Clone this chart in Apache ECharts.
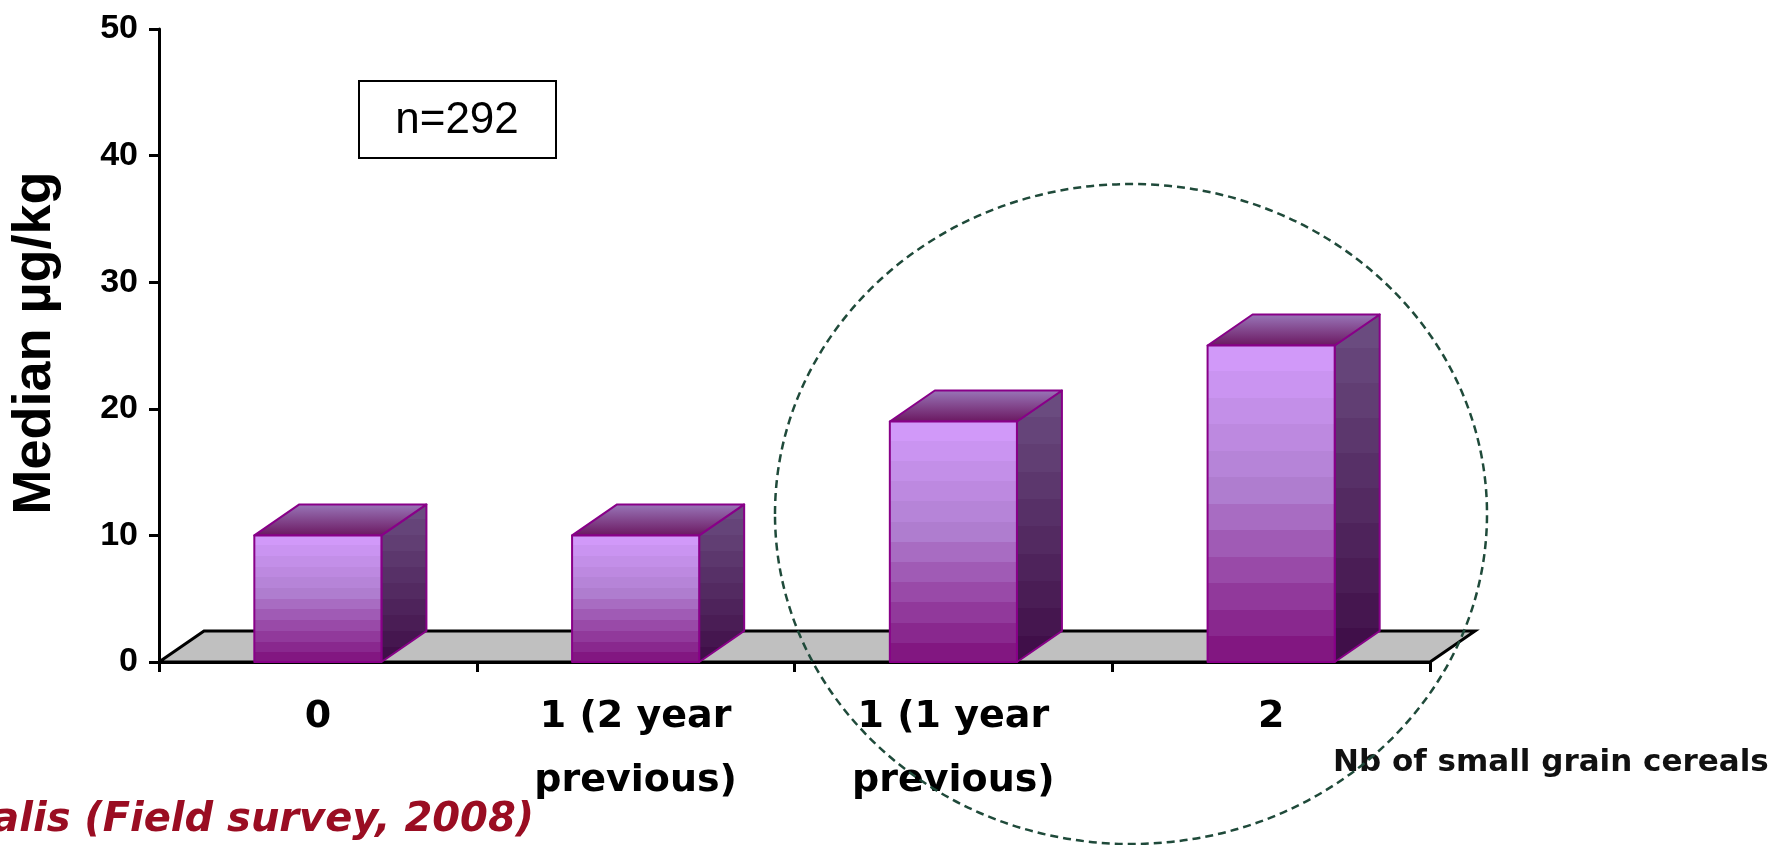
<!DOCTYPE html>
<html>
<head>
<meta charset="utf-8">
<script src="https://cdn.jsdelivr.net/npm/echarts@6/dist/echarts.min.js"></script>
<style>
  html, body { margin: 0; padding: 0; background: #fff; }
  #chart { width: 1780px; height: 845px; }
</style>
</head>
<body>
<div id="chart"></div>
<script>
// values
const categories = ['0', '1 (2 year\nprevious)', '1 (1 year\nprevious)', '2'];
const medians = [10, 10, 19, 25];
const yMax = 50;
const yStep = 10;
const sampleNote = 'n=292';
const xTitle = 'Nb of small grain cereals';
const yTitle = 'Median µg/kg';
const source = 'Arvalis (Field survey, 2008)';

// 3d look
const DX = 45, DY = 31;
const BAR_RATIO = 0.4;
const EDGE = '#880088';

function hexRgb(h) {
  const n = parseInt(h.slice(1), 16);
  return [(n >> 16) & 255, (n >> 8) & 255, n & 255];
}
function colorAt(stops, t) {
  for (let i = 1; i < stops.length; i++) {
    if (t <= stops[i][0]) {
      const a = stops[i - 1], b = stops[i];
      const k = (t - a[0]) / (b[0] - a[0]);
      const ca = hexRgb(a[1]), cb = hexRgb(b[1]);
      const c = ca.map((v, j) => Math.round(v + (cb[j] - v) * k));
      return 'rgb(' + c.join(',') + ')';
    }
  }
  return stops[stops.length - 1][1];
}
// stepped gradient, gives the horizontal bands of the old 3d bars
function banded(stops, n) {
  const out = [];
  for (let i = 0; i < n; i++) {
    const c = colorAt(stops, (i + 0.5) / n);
    out.push({ offset: i / n, color: c }, { offset: (i + 1) / n, color: c });
  }
  return { type: 'linear', x: 0, y: 0, x2: 0, y2: 1, colorStops: out };
}

const frontFill = banded([[0, '#d49cfd'], [0.45, '#b07fd0'], [1, '#7e0f7a']], 12);
const sideFill = banded([[0, '#6c4e82'], [1, '#3e0c46']], 10);
const topFill = {
  type: 'linear', x: 0, y: 0, x2: 0, y2: 1,
  colorStops: [{ offset: 0, color: '#9a78ba' }, { offset: 1, color: '#6a165f' }]
};

function renderFloor(params) {
  const cs = params.coordSys;
  const x0 = cs.x, x1 = cs.x + cs.width, y0 = cs.y + cs.height;
  return {
    type: 'polygon',
    shape: { points: [[x0, y0], [x0 + DX, y0 - DY], [x1 + DX, y0 - DY], [x1, y0]] },
    style: { fill: '#c0c0c0', stroke: '#000', lineWidth: 3, lineJoin: 'miter' }
  };
}

function renderBar(params, api) {
  const top = api.coord([api.value(0), api.value(1)]);
  const base = api.coord([api.value(0), 0]);
  const w = api.size([1, 0])[0] * BAR_RATIO;
  const l = top[0] - w / 2, r = top[0] + w / 2;
  const yt = top[1], yb = base[1];
  const edge = { stroke: EDGE, lineWidth: 2, lineJoin: 'round' };
  return {
    type: 'group',
    children: [
      {
        type: 'polygon',
        shape: { points: [[r, yb], [r + DX, yb - DY], [r + DX, yt - DY], [r, yt]] },
        style: Object.assign({ fill: sideFill }, edge)
      },
      {
        type: 'polygon',
        shape: { points: [[l, yt], [l + DX, yt - DY], [r + DX, yt - DY], [r, yt]] },
        style: Object.assign({ fill: topFill }, edge)
      },
      {
        type: 'rect',
        shape: { x: l, y: yt, width: w, height: yb - yt },
        style: Object.assign({ fill: frontFill }, edge)
      }
    ]
  };
}

const chart = echarts.init(document.getElementById('chart'), null, { renderer: 'canvas' });
chart.setOption({
  animation: false,
  backgroundColor: '#fff',
  grid: { left: 159, right: 350, top: 29, bottom: 183, containLabel: false },
  xAxis: {
    type: 'category',
    data: categories,
    boundaryGap: true,
    axisLine: { lineStyle: { color: '#000', width: 3 } },
    axisTick: { show: true, interval: 0, length: 10, lineStyle: { color: '#000', width: 3 } },
    axisLabel: {
      interval: 0,
      margin: 23,
      color: '#000',
      fontFamily: '"DejaVu Sans", sans-serif',
      fontWeight: 'bold',
      fontSize: 38,
      lineHeight: 64
    },
    splitLine: { show: false }
  },
  yAxis: {
    type: 'value',
    min: 0,
    max: yMax,
    interval: yStep,
    axisLine: { show: true, lineStyle: { color: '#000', width: 3 } },
    axisTick: { show: true, length: 10, lineStyle: { color: '#000', width: 3 } },
    axisLabel: {
      margin: 21,
      color: '#000',
      fontFamily: '"Liberation Sans", Arial, sans-serif',
      fontWeight: 'bold',
      fontSize: 34
    },
    splitLine: { show: false }
  },
  series: [
    {
      type: 'custom',
      name: 'floor',
      data: [[0, 0]],
      renderItem: renderFloor,
      z: 1,
      silent: true
    },
    {
      type: 'custom',
      name: 'Median',
      data: medians.map((v, i) => [i, v]),
      encode: { x: 0, y: 1 },
      renderItem: renderBar,
      z: 3
    }
  ],
  graphic: [
    {
      type: 'text',
      x: 35, y: 343,
      rotation: Math.PI / 2,
      style: {
        text: yTitle,
        fill: '#000',
        font: 'bold 54px "Liberation Sans", Arial, sans-serif',
        align: 'center',
        verticalAlign: 'middle'
      }
    },
    {
      type: 'rect',
      shape: { x: 359, y: 81, width: 197, height: 77 },
      style: { fill: '#fff', stroke: '#000', lineWidth: 2 }
    },
    {
      type: 'text',
      x: 457, y: 121,
      style: {
        text: sampleNote,
        fill: '#000',
        font: '44px "Liberation Sans", Arial, sans-serif',
        align: 'center',
        verticalAlign: 'middle'
      }
    },
    {
      type: 'text',
      x: 1333, y: 763,
      style: {
        text: xTitle,
        fill: '#111',
        font: 'bold 31px "DejaVu Sans", sans-serif',
        align: 'left',
        verticalAlign: 'middle'
      }
    },
    {
      type: 'text',
      x: 534, y: 821,
      style: {
        text: source,
        fill: '#9a0d22',
        font: 'italic bold 40px "DejaVu Sans", sans-serif',
        align: 'right',
        verticalAlign: 'middle',
        textShadowColor: 'rgba(0,0,0,0.25)',
        textShadowOffsetX: 2,
        textShadowOffsetY: 2
      }
    },
    {
      type: 'ellipse',
      shape: { cx: 1131, cy: 514, rx: 356, ry: 330 },
      style: { fill: 'none', stroke: '#1f4a3a', lineWidth: 2.5, lineDash: [8, 5] },
      z: 100
    }
  ]
});
</script>
</body>
</html>
